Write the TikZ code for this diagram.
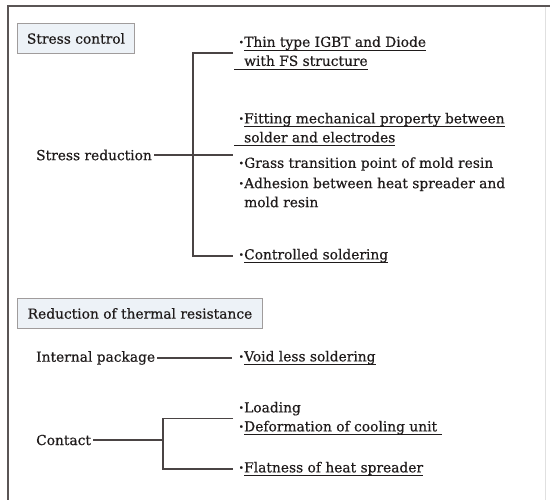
\documentclass[tikz,border=0pt]{standalone}
\usepackage{fontspec}
\setmainfont{DejaVu Serif}[FakeBold=0.5]
\usetikzlibrary{positioning}
\definecolor{linegray}{HTML}{4A4444}
\definecolor{framegray}{HTML}{5A5555}
\definecolor{boxfill}{HTML}{EDF2F7}
\definecolor{boxdraw}{HTML}{A09C9C}
\definecolor{inkgray}{HTML}{1F1B1B}
\newsavebox\ulinebox
\newcommand{\uln}[1]{\sbox\ulinebox{#1}\rlap{\vrule height -3pt depth 3.8pt width \wd\ulinebox}\usebox\ulinebox}
\newcommand{\itemdot}{\llap{\textbf{·}\kern0.5pt}}
\newcommand{\leadline}{\llap{\vrule height -3pt depth 3.8pt width 10pt}}
\begin{document}
\begin{tikzpicture}[
    x=1pt,
    y=-1pt,
    every node/.style={font=\fontsize{13.8}{19}\selectfont, text=inkgray, inner sep=0pt},
    headbox/.style={draw=boxdraw, fill=boxfill, line width=1pt, anchor=north west, minimum height=30pt},
    item/.style={anchor=west, align=left},
    topic/.style={anchor=west},
    edge/.style={draw=linegray, line width=1.4pt}
]
    \useasboundingbox (0,0) rectangle (550,500);
    \draw[framegray, line width=1.8pt] (8,505) -- (8,6) -- (555,6);
    \draw[black!12, line width=0.8pt] (545,7) -- (545,500);

    \node[headbox, minimum width=117pt] (sc) at (17,23) {Stress control};
    \node[headbox, minimum width=245pt] (rtr) at (17,298) {Reduction of thermal resistance};

    \node[topic] (sr) at (36,155) {Stress reduction};
    \node[topic] (ip) at (36,358) {Internal package};
    \node[topic] (ct) at (36,440) {Contact};

    \node[item] (thin) at (244,53) {\itemdot\uln{Thin type IGBT and Diode}\\\leadline\uln{with FS structure}};
    \node[item] (fit) at (244,129.5) {\itemdot\uln{Fitting mechanical property between}\\\leadline\uln{solder and electrodes}};
    \node[item] (grass) at (244,164) {\itemdot Grass transition point of mold resin};
    \node[item] (adh) at (244,192.5) {\itemdot Adhesion between heat spreader and\\mold resin};
    \node[item] (ctrl) at (244,256) {\itemdot\uln{Controlled soldering}};
    \node[item] (void) at (244,358) {\itemdot\uln{Void less soldering}};
    \node[item] (load) at (244,418.5) {\itemdot Loading\\\itemdot\uln{Deformation of cooling unit\ }};
    \node[item] (flat) at (244,469) {\itemdot\uln{Flatness of heat spreader}};

    \coordinate (srj) at (193,155);
    \coordinate (ctj) at (163,440);

    % stress reduction bracket
    \draw[edge] ([xshift=2]sr.east) -- ([xshift=-11]sr.east -| fit.west);
    \draw[edge] ([xshift=-11]thin.west) -| (srj) |- ([xshift=-11]ctrl.west);

    % thermal resistance
    \draw[edge] ([xshift=2]ip.east) -- ([xshift=-12]void.west);
    \draw[edge] ([xshift=2]ct.east) -- (ctj);
    \draw[edge] ([xshift=-11]load.west) -| (ctj) |- ([xshift=-11]flat.west);

\end{tikzpicture}
\end{document}
